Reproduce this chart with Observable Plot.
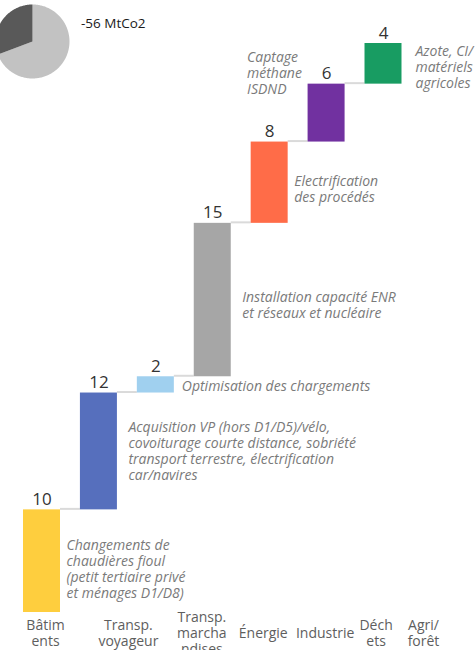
<!DOCTYPE html>
<html><head><meta charset="utf-8">
<script src="https://cdn.jsdelivr.net/npm/d3@7"></script>
<script src="https://cdn.jsdelivr.net/npm/@observablehq/plot@0.6"></script>
<style>
body{margin:0;background:#fff;font-family:"Open Sans",sans-serif;}
#wrap{position:relative;width:475px;height:650px;overflow:hidden;}
#chart{position:absolute;left:0;top:0;}
#pie{position:absolute;left:-5px;top:4px;}
#total{position:absolute;left:81px;top:13px;font-size:13.5px;line-height:20px;color:#1a1a1a;}
#chart text.note{letter-spacing:0.2px;}
</style></head><body>
<div id="wrap"><div id="chart"></div><div id="pie"></div><div id="total"></div></div>
<script>
// ---- data ----
const categories = ["Bâtim\nents", "Transp.\nvoyageur", "Transp.\nmarcha\nndises", "Énergie", "Industrie", "Déch\nets", "Agri/\nforêt"];
const values = [10.1, 11.5, 1.6, 15.1, 8.0, 5.7, 4.0];
const valueLabels = ["10", "12", "2", "15", "8", "6", "4"];
const notes = [
  "Changements de\nchaudières fioul\n(petit tertiaire privé\net ménages D1/D8)",
  "Acquisition VP (hors D1/D5)/vélo,\ncovoiturage courte distance, sobriété\ntransport terrestre, électrification\ncar/navires",
  "Optimisation des chargements",
  "Installation capacité ENR\net réseaux et nucléaire",
  "Electrification\ndes procédés",
  "Captage\nméthane\nISDND",
  "Azote, CI/\nmatériels\nagricoles"
];
const barColors = ["#FECE3E", "#566FBD", "#A0D0EF", "#A6A6A6", "#FF6C48", "#7131A0", "#189C62"];
const pieShares = [69.3, 30.7];          // light part, dark part
const pieColors = ["#C2C2C2", "#595959"];
const totalLabel = "-56 MtCo2";

// ---- layout (not data) ----
const halfWidth = 0.325;
const noteOffsets = [
  {dx: 6, dy: 8}, {dx: 11, dy: -1}, {dx: 7.5, dy: 1}, {dx: 11, dy: 5},
  {dx: 6, dy: 6}, {dx: -98, dy: -40}, {dx: 13.5, dy: 3}
];
const labelDx = [3.5, 29.5, 46, 50.5, 55.5, 49.5, 40];

// ---- derived table ----
const ends = Array.from(d3.cumsum(values));
const rows = categories.map((c, i) => ({
  i, cat: c, start: i ? ends[i - 1] : 0, end: ends[i],
  label: valueLabels[i], note: notes[i], color: barColors[i]
}));
const total = d3.sum(values);

const noteMarks = rows.map((r, k) => Plot.text([r], {
  x: d => d.i + halfWidth, y: d => (d.start + d.end) / 2, text: "note",
  textAnchor: "start", lineAnchor: "middle", dx: noteOffsets[k].dx, dy: noteOffsets[k].dy,
  fontSize: 14, fontStyle: "italic", fill: "#7a7a7a", lineHeight: 16 / 14, className: "note"
}));
const catMarks = rows.map((r, k) => Plot.text([r], {
  x: "i", y: d => 0, text: "cat", dx: labelDx[k], dy: 20, lineAnchor: "middle",
  fontSize: 14, fill: "#5e5e5e", lineHeight: 16 / 14
}));

const chart = Plot.plot({
  width: 475, height: 650,
  marginTop: 0, marginBottom: 0, marginLeft: 0, marginRight: 0,
  style: {fontFamily: "'Open Sans', sans-serif", overflow: "visible", background: "transparent"},
  x: {domain: [0, categories.length - 1], range: [41.5, 383], axis: null},
  y: {domain: [0, total], range: [612, 43], axis: null},
  color: {type: "identity"},
  marks: [
    Plot.ruleY(rows.slice(0, -1), {
      y: "end", x1: d => d.i + halfWidth, x2: d => d.i + 1 - halfWidth,
      stroke: "#dadada", strokeWidth: 2, dy: -1
    }),
    Plot.rectY(rows, {
      x1: d => d.i - halfWidth, x2: d => d.i + halfWidth,
      y1: "start", y2: "end", fill: "color"
    }),
    Plot.text(rows, {
      x: "i", y: "end", text: "label", dy: -5, lineAnchor: "bottom",
      fontSize: 17, fill: "#333"
    }),
    ...catMarks,
    ...noteMarks
  ]
});
document.getElementById("chart").appendChild(chart);

// ---- pie ----
const pieEnds = Array.from(d3.cumsum(pieShares));
const pieSum = d3.sum(pieShares);
const pieMarks = pieShares.map((s, k) => {
  const a0 = (k ? pieEnds[k - 1] : 0) / pieSum * 2 * Math.PI;
  const a1 = pieEnds[k] / pieSum * 2 * Math.PI;
  const n = Math.max(2, Math.ceil((a1 - a0) / 0.02));
  const pts = [{x: 0, y: 0}];
  for (let j = 0; j <= n; j++) {
    const a = a0 + (a1 - a0) * j / n;
    pts.push({x: Math.sin(a), y: Math.cos(a)});
  }
  return Plot.line(pts, {x: "x", y: "y", fill: pieColors[k], stroke: "none"});
});
const pie = Plot.plot({
  width: 74, height: 74, margin: 0,
  style: {overflow: "visible", background: "transparent"},
  x: {domain: [-1, 1], range: [0, 74], axis: null},
  y: {domain: [-1, 1], range: [74, 0], axis: null},
  marks: pieMarks
});
document.getElementById("pie").appendChild(pie);
document.getElementById("total").textContent = totalLabel;
</script>
</body></html>
